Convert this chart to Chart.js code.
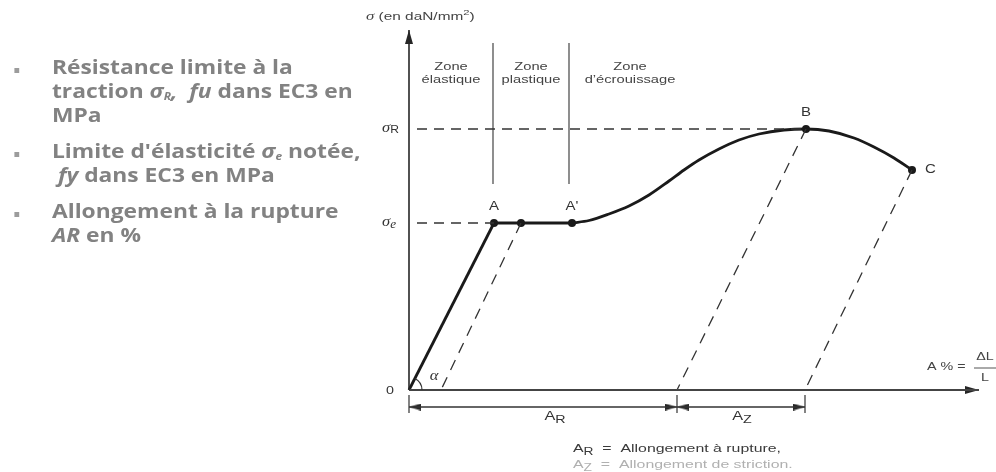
<!DOCTYPE html>
<html>
<head>
<meta charset="utf-8">
<script src="https://cdn.jsdelivr.net/npm/chart.js@4.4.1/dist/chart.umd.min.js"></script>
<style>
  body { margin: 0; background: #fff; }
  #wrap { position: relative; width: 996px; height: 472px; overflow: hidden; }
  #graph { position: absolute; left: 0; top: 0; }
  /* the slide text is stretched sideways like the rest of the scan */
  #notes { position: absolute; left: 0; top: 55px; margin: 0; padding: 0; list-style: none;
           font-family: "Open Sans", Lato, sans-serif; font-weight: 700; font-size: 19px;
           line-height: 24px; color: #828282; transform: scaleX(1.2); transform-origin: 0 0; }
  #notes li { position: relative; padding-left: 43.3px; margin-bottom: 12px; white-space: nowrap; }
  #notes li::before { content: ""; position: absolute; left: 12px; top: 13px; width: 4.4px; height: 5px; background: #9c9c9c; }
  #notes i { font-style: italic; }
  #notes sub { font-size: 10px; vertical-align: -2px; line-height: 0; }
</style>
</head>
<body>
<div id="wrap">
  <canvas id="graph" width="996" height="472"></canvas>
  <ul id="notes">
    <li>Résistance limite à la<br>traction <i>σ<sub>R</sub>,&nbsp; fu</i> dans EC3 en<br>MPa</li>
    <li>Limite d'élasticité <i>σ<sub>e</sub></i> notée,<br>&nbsp;<i>fy</i> dans EC3 en MPa</li>
    <li>Allongement à la rupture<br><i>AR</i> en %</li>
  </ul>
</div>
<script>
// stress-strain curve (x = A %, y = σ)
const keyLabels = ['A', '', "A'", 'B', 'C'];
const keyX = [8.5, 11.2, 16.3, 39.7, 50.3];
const keyY = [16.7, 16.7, 16.7, 26.1, 22.0];

const hardenX = [16.3, 18.0, 20.0, 22.0, 24.0, 26.0, 27.5, 29.0, 31.0, 33.0, 35.0, 37.5, 39.7, 42.0, 44.5, 46.5, 48.5, 50.3];
const hardenY = [16.7, 16.95, 17.6, 18.4, 19.5, 20.9, 22.0, 23.0, 24.1, 25.0, 25.6, 26.0, 26.1, 25.9, 25.2, 24.3, 23.2, 22.0];

// unloading lines (parallel to the elastic line)
const unloadTopX = [11.2, 39.7, 50.3];
const unloadTopY = [16.7, 26.1, 22.0];
const unloadBaseX = [3.2, 26.8, 39.6];

const levelNames = ['R', 'e'];
const levelValues = [26.1, 16.7];

const zoneBounds = [8.4, 16.0];
const zoneNames = [['Zone', 'élastique'], ['Zone', 'plastique'], ['Zone', 'd\u2019écrouissage']];

const dimNames = ['R', 'Z'];
const dimFrom = [0, 26.8];
const dimTo = [26.8, 39.6];

const xMax = 57, yMax = 36;
const dimY = -1.7;
const ink = '#262626';

// small arrow head used as point style (pointing right, rotated per point)
function arrowHead(len, wid) {
  const c = document.createElement('canvas');
  c.width = len * 2; c.height = wid;
  const g = c.getContext('2d');
  g.fillStyle = ink;
  g.beginPath();
  g.moveTo(len * 2, wid / 2);
  g.lineTo(len, 0);
  g.lineTo(len, wid);
  g.closePath();
  g.fill();
  return c;
}
const headBig = arrowHead(14, 8);
const headSmall = arrowHead(12, 7);

function withGaps(segs) {
  const out = [];
  segs.forEach(s => { out.push(s[0], s[1], { x: s[1].x, y: null }); });
  return out;
}

// arrow tips: the image is centred on the point, tip sits len px ahead
const heads = [
  { x: 0, y: yMax, rot: -90, img: headBig },
  { x: xMax, y: 0, rot: 0, img: headBig }
];
dimFrom.forEach((v, i) => {
  heads.push({ x: v, y: dimY, rot: 180, img: headSmall });
  heads.push({ x: dimTo[i], y: dimY, rot: 0, img: headSmall });
});

const line = (data, extra) => Object.assign({
  data: data, showLine: true, pointRadius: 0, borderColor: ink, borderWidth: 1.5,
  fill: false, tension: 0, clip: false, spanGaps: false
}, extra || {});

const datasets = [
  // axes
  line([{ x: 0, y: 0 }, { x: 0, y: yMax }], { borderWidth: 1.6 }),
  line([{ x: 0, y: 0 }, { x: xMax, y: 0 }], { borderWidth: 2, borderColor: '#444' }),
  // level dashes
  line(withGaps(levelValues.map((v, i) => [{ x: 0.8, y: v }, { x: i === 0 ? keyX[3] : keyX[0], y: v }])),
       { borderDash: [10, 7], borderWidth: 1.3, borderColor: '#333' }),
  // unloading dashes
  line(withGaps(unloadTopX.map((v, i) => [{ x: v, y: unloadTopY[i] }, { x: unloadBaseX[i], y: 0 }])),
       { borderDash: [11, 8], borderWidth: 1.3, borderColor: '#333' }),
  // zone separators
  line(withGaps(zoneBounds.map(v => [{ x: v, y: 34.7 }, { x: v, y: 20.6 }])), { borderWidth: 1.1, borderColor: '#333' }),
  // elastic part
  line([{ x: 0, y: 0 }, { x: keyX[0], y: keyY[0] }], { borderWidth: 2.8, borderColor: '#1a1a1a' }),
  // plateau
  line([{ x: keyX[0], y: keyY[0] }, { x: keyX[2], y: keyY[2] }], { borderWidth: 2.8, borderColor: '#1a1a1a' }),
  // hardening + necking
  line(hardenX.map((v, i) => ({ x: v, y: hardenY[i] })),
       { borderWidth: 2.8, borderColor: '#1a1a1a', cubicInterpolationMode: 'monotone' }),
  // key points
  { data: keyX.map((v, i) => ({ x: v, y: keyY[i] })), showLine: false, pointRadius: 4,
    pointBackgroundColor: '#1a1a1a', pointBorderWidth: 0, clip: false },
  // dimension line and end ticks
  line([{ x: 0, y: dimY }, { x: dimTo[dimTo.length - 1], y: dimY }], { borderWidth: 1.4, borderColor: '#333' }),
  line(withGaps([0].concat(dimTo).map(v => [{ x: v, y: -0.5 }, { x: v, y: -2.3 }])), { borderWidth: 1.2, borderColor: '#333' }),
  // arrow heads
  { data: heads.map(h => {
      const off = h.img.width / 2 / 10;
      const r = h.rot * Math.PI / 180;
      return { x: h.x - Math.cos(r) * off, y: h.y + Math.sin(r) * off };
    }),
    showLine: false, pointStyle: heads.map(h => h.img), rotation: heads.map(h => h.rot),
    pointRadius: 6, clip: false }
];

const textPlugin = {
  id: 'texts',
  afterDatasetsDraw(chart) {
    const ctx = chart.ctx;
    const sx = chart.scales.x, sy = chart.scales.y;
    const px = v => sx.getPixelForValue(v), py = v => sy.getPixelForValue(v);
    const sans = s => s + 'px "Liberation Sans", Arial, sans-serif';
    const serifI = s => 'italic ' + s + 'px "Liberation Serif", serif';
    ctx.save();
    ctx.textBaseline = 'middle';
    ctx.textAlign = 'left';

    // the scanned figure is stretched sideways, so text is drawn with a x-scale k
    function width(parts, k) {
      let w = 0;
      parts.forEach(p => { ctx.font = p[1]; w += ctx.measureText(p[0]).width * k; });
      return w;
    }
    function run(parts, x, y, color, k, align) {
      k = k || 1;
      let cx = x;
      if (align === 'center') cx -= width(parts, k) / 2;
      if (align === 'right') cx -= width(parts, k);
      parts.forEach(p => {
        ctx.font = p[1];
        ctx.fillStyle = color;
        ctx.save();
        ctx.translate(cx, y + (p[2] || 0));
        ctx.scale(k, 1);
        ctx.fillText(p[0], 0, 0);
        ctx.restore();
        cx += ctx.measureText(p[0]).width * k;
      });
    }

    // axis title
    run([['σ', serifI(12)], [' (en daN/mm', sans(11)], ['2', sans(8), -4], [')', sans(11)]],
        px(0) - 43, 17, '#444', 1.4);

    // zone names
    zoneNames.forEach((z, i) => {
      const lo = i === 0 ? 0 : zoneBounds[i - 1];
      const c = i < zoneBounds.length ? (lo + zoneBounds[i]) / 2 : lo + 6.1;
      run([[z[0], sans(10.5)]], px(c), 67, '#444', 1.4, 'center');
      run([[z[1], sans(10.5)]], px(c), 80, '#444', 1.4, 'center');
    });

    // stress levels
    levelNames.forEach((n, i) => {
      const parts = n === 'R'
        ? [['σ', serifI(15)], ['R', sans(11), 2]]
        : [['σ', serifI(15)], ['e', serifI(12), 3]];
      run(parts, px(0) - 27, py(levelValues[i]) - 1, '#333', 1.1);
    });

    // origin and angle
    run([['0', sans(11)]], px(0) - 19, py(0) + 1, '#333', 1.3, 'center');
    const ang = Math.atan2(py(0) - py(keyY[0]), px(keyX[0]) - px(0));
    ctx.strokeStyle = '#333';
    ctx.lineWidth = 1.2;
    ctx.beginPath();
    ctx.arc(px(0), py(0), 13, -ang, 0);
    ctx.stroke();
    run([['α', serifI(15)]], px(0) + 25, py(0) - 14, '#333', 1.1, 'center');

    // key point names
    keyLabels.forEach((l, i) => {
      if (!l) return;
      if (l === 'C') run([[l, sans(12)]], px(keyX[i]) + 13, py(keyY[i]), '#333', 1.25);
      else run([[l, sans(12)]], px(keyX[i]), py(keyY[i]) - 16, '#333', 1.25, 'center');
    });

    // x axis name
    const ax = px(xMax) - 52, ay = py(0) - 23;
    run([['A % =', sans(11)]], ax, ay, '#444', 1.3);
    run([['ΔL', sans(11)]], ax + 58, ay - 10, '#444', 1.3, 'center');
    run([['L', sans(11)]], ax + 58, ay + 11, '#444', 1.3, 'center');
    ctx.beginPath();
    ctx.moveTo(ax + 47, ay + 1);
    ctx.lineTo(ax + 69, ay + 1);
    ctx.lineWidth = 1;
    ctx.strokeStyle = '#555';
    ctx.stroke();

    // dimension names
    dimNames.forEach((n, i) => {
      run([['A', sans(12.5)], [n, sans(11), 3]], px((dimFrom[i] + dimTo[i]) / 2) + (i === 0 ? 12 : 1),
          py(dimY) + 10, '#333', 1.3, 'center');
    });

    // footnotes
    run([['A', sans(11.5)], ['R', sans(10), 3], ['  =  Allongement à rupture,', sans(11.5)]], 573, 449, '#3a3a3a', 1.38);
    run([['A', sans(11.5)], ['Z', sans(10), 3], ['  =  Allongement de striction.', sans(11.5)]], 573, 465, '#b0b0b0', 1.38);

    ctx.restore();
  }
};

new Chart(document.getElementById('graph'), {
  type: 'scatter',
  data: { datasets: datasets },
  options: {
    responsive: false,
    animation: false,
    events: [],
    layout: { padding: { left: 409, right: 17, top: 30, bottom: 22 } },
    scales: {
      x: { type: 'linear', min: 0, max: xMax, display: false },
      y: { type: 'linear', min: -6, max: yMax, display: false }
    },
    plugins: { legend: { display: false }, tooltip: { enabled: false } }
  },
  plugins: [textPlugin]
});
</script>
</body>
</html>
